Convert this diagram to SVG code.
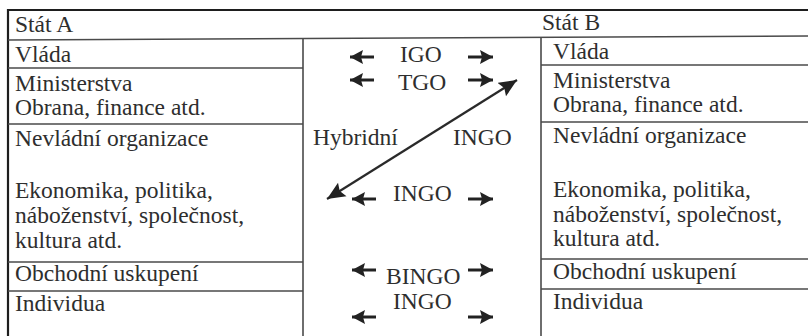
<svg xmlns="http://www.w3.org/2000/svg" width="808" height="336" viewBox="0 0 808 336">
<defs>
<style>
text{font-family:'Liberation Serif','DejaVu Serif',serif;font-size:23.5px;fill:#2e2e2e}
.frame{stroke:#1e1e1e;stroke-width:2.2;fill:none}
.rule{stroke:#4a4a4a;stroke-width:1.6;fill:none}
.sa{stroke:#222;stroke-width:3;fill:none;marker-end:url(#sh)}
.da{stroke:#2a2a2a;stroke-width:2.2;fill:none;marker-start:url(#bhs);marker-end:url(#bh)}
</style>
<marker id="sh" markerUnits="userSpaceOnUse" markerWidth="16" markerHeight="16" refX="13" refY="7" orient="auto">
<path d="M0,0 L13,7 L0,14 L2,7 Z" fill="#222"/>
</marker>
<marker id="bh" markerUnits="userSpaceOnUse" markerWidth="20" markerHeight="18" refX="18" refY="8" orient="auto">
<path d="M0,0 L18,8 L0,16 L3,8 Z" fill="#222"/>
</marker>
<marker id="bhs" markerUnits="userSpaceOnUse" markerWidth="20" markerHeight="18" refX="0" refY="8" orient="auto">
<path d="M18,0 L0,8 L18,16 L15,8 Z" fill="#222"/>
</marker>
</defs>
<rect width="808" height="336" fill="#fff"/>

<g id="frame">
<line class="frame" x1="7" y1="10" x2="808" y2="10"/>
<line class="frame" x1="8" y1="9" x2="8" y2="336"/>
<line class="rule" x1="8" y1="40" x2="808" y2="36"/>
<line class="rule" x1="303" y1="39" x2="303" y2="336"/>
<line class="rule" x1="541" y1="37" x2="541" y2="336"/>
<line class="rule" x1="8" y1="68" x2="303" y2="68"/>
<line class="rule" x1="8" y1="124" x2="303" y2="124"/>
<line class="rule" x1="8" y1="262" x2="303" y2="262"/>
<line class="rule" x1="8" y1="291" x2="303" y2="291"/>
<line class="rule" x1="541" y1="65" x2="808" y2="65"/>
<line class="rule" x1="541" y1="122" x2="808" y2="122"/>
<line class="rule" x1="541" y1="259" x2="808" y2="259"/>
<line class="rule" x1="541" y1="289" x2="808" y2="289"/>
</g>

<g font-family="Liberation Serif, DejaVu Serif, serif">
<g id="stat-a"><text x="15" y="32">Stát A</text></g>
<g id="a-vlada"><text x="15" y="62">Vláda</text></g>
<g id="a-ministerstva"><text x="15" y="91">Ministerstva</text><text x="15" y="115">Obrana, finance atd.</text></g>
<g id="a-nevladni"><text x="15" y="146">Nevládní organizace</text><text x="15" y="198">Ekonomika, politika,</text><text x="15" y="223">náboženství, společnost,</text><text x="15" y="248">kultura atd.</text></g>
<g id="a-obchodni"><text x="15" y="281">Obchodní uskupení</text></g>
<g id="a-individua"><text x="15" y="311">Individua</text></g>

<g id="stat-b"><text x="542" y="30">Stát B</text></g>
<g id="b-vlada"><text x="553" y="59">Vláda</text></g>
<g id="b-ministerstva"><text x="553" y="88">Ministerstva</text><text x="553" y="112">Obrana, finance atd.</text></g>
<g id="b-nevladni"><text x="553" y="143">Nevládní organizace</text><text x="553" y="197">Ekonomika, politika,</text><text x="553" y="222">náboženství, společnost,</text><text x="553" y="246">kultura atd.</text></g>
<g id="b-obchodni"><text x="553" y="279">Obchodní uskupení</text></g>
<g id="b-individua"><text x="553" y="309">Individua</text></g>

<g id="labels">
<text x="400" y="62">IGO</text>
<text x="398" y="90">TGO</text>
<text x="313" y="145">Hybridní</text>
<text x="453" y="145">INGO</text>
<text x="393" y="201">INGO</text>
<text x="386" y="284">BINGO</text>
<text x="393" y="309">INGO</text>
</g>
</g>

<g id="connectors">
<line class="sa" x1="374" y1="57" x2="350" y2="57"/>
<line class="sa" x1="468" y1="57" x2="493" y2="57"/>
<line class="sa" x1="374" y1="80" x2="350" y2="80"/>
<line class="sa" x1="468" y1="80" x2="493" y2="80"/>
<line class="sa" x1="376" y1="199" x2="352" y2="199"/>
<line class="sa" x1="468" y1="199" x2="493" y2="199"/>
<line class="sa" x1="376" y1="270" x2="352" y2="270"/>
<line class="sa" x1="468" y1="270" x2="493" y2="270"/>
<line class="sa" x1="376" y1="317" x2="352" y2="317"/>
<line class="sa" x1="468" y1="317" x2="493" y2="317"/>
<line class="da" x1="327" y1="199" x2="517" y2="80"/>
</g>
</svg>
